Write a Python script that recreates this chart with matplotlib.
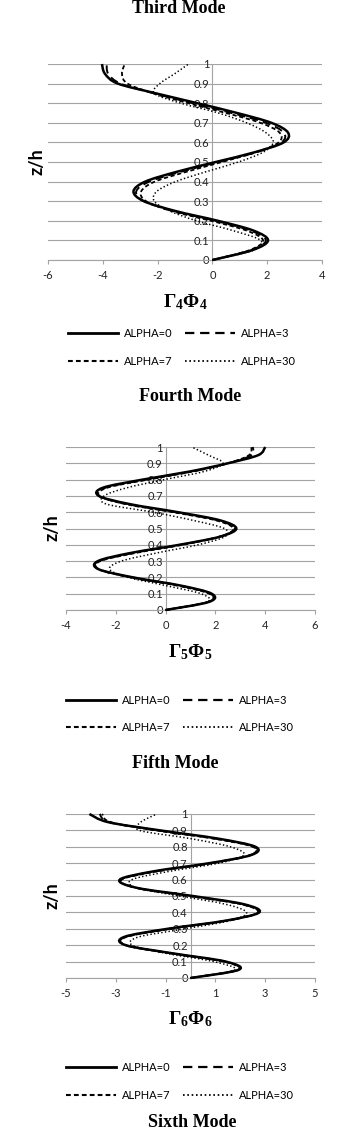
import numpy as np
import matplotlib.pyplot as plt
from matplotlib.path import Path
from matplotlib.patches import PathPatch
from matplotlib.lines import Line2D

plt.rcParams['font.family'] = ['Lato', 'DejaVu Sans']
plt.rcParams['mathtext.fontset'] = 'custom'
plt.rcParams['mathtext.bf'] = 'Liberation Serif:bold'
plt.rcParams['mathtext.rm'] = 'Liberation Serif:bold'

# relative height z/h
z = [0.0, 0.05, 0.1, 0.15, 0.2, 0.25, 0.3, 0.35, 0.4, 0.45, 0.5,
     0.55, 0.6, 0.65, 0.7, 0.75, 0.8, 0.85, 0.9, 0.95, 1.0]
z_ticks = [0, 0.1, 0.2, 0.3, 0.4, 0.5, 0.6, 0.7, 0.8, 0.9, 1]
z_tick_labels = ['0', '0.1', '0.2', '0.3', '0.4', '0.5', '0.6', '0.7', '0.8', '0.9', '1']
alpha_labels = ['ALPHA=0', 'ALPHA=3', 'ALPHA=7', 'ALPHA=30']

# fourth mode  (Gamma4 * Phi4)
m4_a0 = [0, 1.45, 2.03, 1.5, 0.2, -1.35, -2.5, -2.88, -2.45, -1.3, 0.12,
         1.55, 2.6, 2.76, 2.15, 0.9, -0.55, -2.05, -3.45, -3.92, -4.03]
m4_a3 = [0, 1.4, 1.95, 1.4, 0.1, -1.4, -2.5, -2.78, -2.3, -1.15, 0.22,
         1.6, 2.52, 2.6, 1.95, 0.7, -0.72, -2.12, -3.35, -3.8, -3.86]
m4_a7 = [0, 1.35, 1.85, 1.25, -0.05, -1.5, -2.42, -2.6, -2.1, -0.95, 0.35,
         1.6, 2.42, 2.45, 1.75, 0.5, -0.88, -2.15, -3.1, -3.3, -3.2]
m4_a30 = [0, 1.5, 1.76, 0.75, -0.58, -1.55, -2.12, -2.03, -1.34, -0.24, 0.95,
          1.85, 2.22, 1.95, 1.25, 0.22, -1.15, -2.12, -1.92, -1.38, -0.87]

# fifth mode
m5_a0 = [0, 1.75, 1.85, 0.6, -1.3, -2.69, -2.72, -1.4, 0.55, 2.19, 2.84,
         2.19, 0.5, -1.45, -2.68, -2.52, -0.92, 0.98, 2.5, 3.72, 4.0]
m5_a3 = [0, 1.72, 1.8, 0.55, -1.35, -2.68, -2.68, -1.3, 0.6, 2.17, 2.78,
         2.1, 0.4, -1.55, -2.68, -2.42, -0.8, 1.05, 2.5, 3.45, 3.5]
m5_a7 = [0, 1.72, 1.75, 0.45, -1.42, -2.68, -2.62, -1.2, 0.68, 2.18, 2.72,
         2.02, 0.3, -1.62, -2.66, -2.35, -0.7, 1.12, 2.5, 3.35, 3.45]
m5_a30 = [0, 1.68, 1.42, 0.0, -1.5, -2.25, -1.78, -0.35, 1.3, 2.38, 2.36,
          1.1, -0.5, -2.38, -2.47, -1.55, -0.05, 1.55, 2.3, 1.72, 1.05]

# sixth mode
m6_a0 = [0, 1.94, 1.42, -0.7, -2.6, -2.67, -0.92, 1.43, 2.76, 2.14, 0.09,
         -2.16, -2.84, -1.5, 0.75, 2.44, 2.61, 1.1, -1.22, -3.3, -4.06]
m6_a3 = [0, 1.92, 1.38, -0.75, -2.6, -2.62, -0.85, 1.45, 2.73, 2.08, 0.0,
         -2.18, -2.8, -1.42, 0.8, 2.42, 2.55, 1.0, -1.3, -3.25, -3.65]
m6_a7 = [0, 1.9, 1.33, -0.8, -2.6, -2.58, -0.78, 1.48, 2.7, 2.02, -0.08,
         -2.2, -2.76, -1.35, 0.85, 2.4, 2.5, 0.92, -1.38, -3.2, -3.55]
m6_a30 = [0, 1.78, 0.93, -0.97, -2.34, -2.09, -0.22, 1.59, 2.25, 1.4, -0.43,
          -2.17, -2.35, -0.86, 1.12, 2.15, 1.6, 0.0, -2.05, -2.0, -1.35]

x_ticks4 = [-6, -4, -2, 0, 2, 4]
x_ticks5 = [-4, -2, 0, 2, 4, 6]
x_ticks6 = [-5, -3, -1, 1, 3, 5]

W, H = 354, 1130
GRID = '#a3a3a3'

styles = [dict(lw=1.8, ls='-'),
          dict(lw=1.4, ls=(0, (4.2, 2.6))),
          dict(lw=1.3, ls=(0, (2.3, 1.5))),
          dict(lw=1.1, ls=(0, (0.9, 1.5)))]


def smooth_path(xs, ys):
    # Excel-like smoothed line (Catmull-Rom through the data points)
    p = np.column_stack([xs, ys]).astype(float)
    n = len(p)
    verts, codes = [p[0]], [Path.MOVETO]
    for i in range(n - 1):
        p0, p1 = p[max(i - 1, 0)], p[i]
        p2, p3 = p[i + 1], p[min(i + 2, n - 1)]
        verts += [p1 + (p2 - p0) / 6, p2 - (p3 - p1) / 6, p2]
        codes += [Path.CURVE4] * 3
    return Path(verts, codes)


def fx(x):
    return x / W


def fy(y):
    return 1 - y / H


fig = plt.figure(figsize=(W / 100, H / 100), dpi=100)


def panel(box, xlim, xticks, series, xlabel, zlab_xy, xlab_xy, leg_xy):
    l, t, r, b = box
    ax = fig.add_axes([fx(l), fy(b), (r - l) / W, (b - t) / H])
    ax.set_xlim(*xlim)
    ax.set_ylim(0, 1)
    for vals, st in zip(series, styles):
        ax.add_patch(PathPatch(smooth_path(vals, z), fill=False, color='black',
                               lw=st['lw'], ls=st['ls'], clip_on=False,
                               capstyle='butt', zorder=3))
    ax.set_yticks(z_ticks)
    ax.set_yticklabels(z_tick_labels)
    ax.set_xticks(xticks)
    ax.set_xticklabels([str(v) for v in xticks])
    ax.spines['top'].set_visible(False)
    ax.spines['right'].set_visible(False)
    ax.spines['left'].set_position(('data', 0))
    for s in ('left', 'bottom'):
        ax.spines[s].set_color(GRID)
        ax.spines[s].set_linewidth(0.8)
    ax.grid(axis='y', color=GRID, lw=0.8)
    ax.set_axisbelow(True)
    ax.tick_params(axis='y', length=0, pad=2, labelsize=8, labelcolor='#222222')
    ax.tick_params(axis='x', length=3, width=0.8, color=GRID, pad=4.5,
                   labelsize=8, labelcolor='#222222')
    ax.patch.set_alpha(0)

    fig.text(fx(zlab_xy[0]), fy(zlab_xy[1]), 'z/h', rotation=90, ha='center',
             va='center', fontsize=13, fontweight='bold')
    fig.text(fx(xlab_xy[0]), fy(xlab_xy[1]), xlabel, ha='center', va='baseline',
             fontsize=14)

    handles = [Line2D([], [], color='black', lw=st['lw'] + 0.2, ls=st['ls']) for st in styles]
    order = [0, 2, 1, 3]
    fig.legend([handles[i] for i in order], [alpha_labels[i] for i in order],
               ncol=2, loc='center', bbox_to_anchor=(fx(leg_xy[0]), fy(leg_xy[1])),
               frameon=False, fontsize=8, handlelength=4.5, handletextpad=0.55,
               columnspacing=1.1, labelspacing=1.5, borderpad=0)
    return ax


panel((48, 64, 322, 260), (-6, 4), x_ticks4, [m4_a0, m4_a3, m4_a7, m4_a30],
      r'$\mathbf{\Gamma_4\Phi_4}$', (37, 162), (185, 307), (182, 347.5))
panel((66, 447, 315, 610), (-4, 6), x_ticks5, [m5_a0, m5_a3, m5_a7, m5_a30],
      r'$\mathbf{\Gamma_5\Phi_5}$', (52, 528), (190, 657), (180, 714))
panel((66, 814, 315, 978), (-5, 5), x_ticks6, [m6_a0, m6_a3, m6_a7, m6_a30],
      r'$\mathbf{\Gamma_6\Phi_6}$', (52, 896), (190, 1024), (180, 1081.5))

title_kw = dict(ha='center', va='baseline', fontsize=13, fontweight='bold',
                family='Liberation Serif')
fig.text(fx(179), fy(13), 'Third Mode', **title_kw)
fig.text(fx(190), fy(401), 'Fourth Mode', **title_kw)
fig.text(fx(175), fy(768), 'Fifth Mode', **title_kw)
fig.text(fx(192), fy(1127), 'Sixth Mode', **title_kw)

fig.savefig('out.png', dpi=100)
